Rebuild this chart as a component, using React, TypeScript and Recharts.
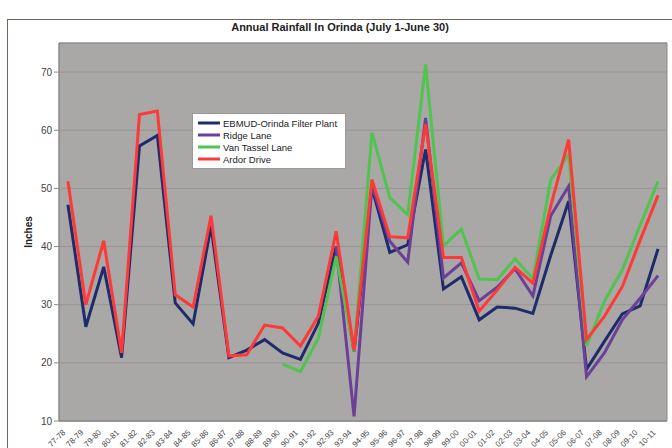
import { LineChart, Line, XAxis, YAxis, CartesianGrid, Legend, ReferenceArea } from "recharts";

const years = [
  "77-78", "78-79", "79-80", "80-81", "81-82", "82-83", "83-84", "84-85", "85-86", "86-87",
  "87-88", "88-89", "89-90", "90-91", "91-92", "92-93", "93-94", "94-95", "95-96", "96-97",
  "97-98", "98-99", "99-00", "00-01", "01-02", "02-03", "03-04", "04-05", "05-06", "06-07",
  "07-08", "08-09", "09-10", "10-11",
];

const ebmud = [
  47.2, 26.2, 36.5, 20.9, 57.3, 59.1, 30.3, 26.7, 43.5, 20.9,
  22.2, 24.0, 21.7, 20.6, 26.8, 40.0, 22.0, 50.1, 39.0, 40.3,
  56.7, 32.7, 34.8, 27.4, 29.6, 29.4, 28.5, 38.5, 47.8, 18.9,
  23.7, 28.4, 29.8, 39.6,
];

const ridge = [
  null, null, null, null, null, null, null, null, null, null,
  null, null, null, null, null, 40.0, 10.8, 50.5, 40.9, 37.3,
  62.1, 34.6, 37.2, 30.7, 33.0, 36.2, 31.5, 45.3, 50.4, 17.6,
  21.7, 27.4, 31.1, 35.0,
];

const vanTassel = [
  null, null, null, null, null, null, null, null, null, null,
  null, null, 19.8, 18.5, 24.2, 38.3, 22.0, 59.6, 48.4, 45.5,
  71.3, 40.1, 43.0, 34.4, 34.3, 37.9, 34.5, 51.5, 55.8, 22.9,
  30.6, 36.0, 43.7, 51.2,
];

const ardor = [
  51.2, 30.0, 41.0, 21.7, 62.7, 63.3, 31.7, 29.6, 45.3, 21.2,
  21.4, 26.5, 26.0, 22.9, 28.0, 42.6, 22.2, 51.5, 41.7, 41.5,
  61.0, 38.1, 38.1, 28.9, 32.5, 36.4, 33.7, 47.0, 58.4, 24.0,
  28.0, 33.1, 41.1, 48.8,
];

const yTicks = [10, 20, 30, 40, 50, 60, 70];

const series = [
  { key: "ebmud", name: "EBMUD-Orinda Filter Plant", color: "#1f2c6c" },
  { key: "ridge", name: "Ridge Lane", color: "#6c3f98" },
  { key: "vanTassel", name: "Van Tassel Lane", color: "#4fc44f" },
  { key: "ardor", name: "Ardor Drive", color: "#ff3838" },
];

const data = years.map((year, i) => ({
  year,
  ebmud: ebmud[i],
  ridge: ridge[i],
  vanTassel: vanTassel[i],
  ardor: ardor[i],
}));

const font = "'Liberation Sans', Arial, sans-serif";

const XTick = ({ x, y, payload }: any) => (
  <text
    x={x - 2}
    y={y + 4}
    textAnchor="end"
    fontSize={8}
    fontFamily={font}
    fill="#4a4a4a"
    transform={`rotate(-45 ${x - 2} ${y + 4})`}
  >
    {payload.value}
  </text>
);

const renderLegend = () => (
  <div
    style={{
      background: "#fff",
      border: "1px solid #9a9a9a",
      padding: "3px 4px",
      fontFamily: font,
      fontSize: 9.5,
      color: "#222",
      whiteSpace: "nowrap",
    }}
  >
    {series.map((s) => (
      <div key={s.key} style={{ display: "flex", alignItems: "center", height: 12 }}>
        <svg width={24} height={6} style={{ marginRight: 2 }}>
          <line x1={1} y1={3} x2={23} y2={3} stroke={s.color} strokeWidth={3} />
        </svg>
        <span>{s.name}</span>
      </div>
    ))}
  </div>
);

export default function App() {
  return (
    <div style={{ position: "absolute", left: 0, top: 0, width: 672, height: 448, background: "#fff", overflow: "hidden" }}>
      <div
        style={{
          position: "absolute",
          left: 7,
          top: 19,
          width: 700,
          height: 480,
          border: "1.5px solid #74665e",
        }}
      />
      <div
        style={{
          position: "absolute",
          left: 0,
          top: 21,
          width: 680,
          textAlign: "center",
          fontFamily: font,
          fontWeight: "bold",
          fontSize: 11,
          color: "#222",
        }}
      >
        Annual Rainfall In Orinda (July 1-June 30)
      </div>
      <LineChart
        width={672}
        height={448}
        data={data}
        margin={{ top: 43, right: 5, bottom: 0, left: 0 }}
        style={{ position: "absolute", left: 0, top: 0 }}
      >
        <CartesianGrid vertical={false} fill="#aaa8a6" stroke="#979593" strokeWidth={1} />
        <ReferenceArea y1={10} y2={75} fill="none" stroke="#8c8a88" strokeWidth={1} />
        <XAxis
          dataKey="year"
          scale="band"
          interval={0}
          height={27}
          tickLine={false}
          axisLine={{ stroke: "#8c8a88" }}
          tick={<XTick />}
        />
        <YAxis
          domain={[10, 75]}
          ticks={yTicks}
          width={59}
          allowDataOverflow
          tickSize={5}
          tickLine={{ stroke: "#8c8a88" }}
          axisLine={{ stroke: "#8c8a88" }}
          tick={{ fontSize: 10, fill: "#444", fontFamily: font }}
          label={({ viewBox }: any) => (
            <text
              x={viewBox.x + 32}
              y={viewBox.y + viewBox.height / 2}
              textAnchor="middle"
              fontSize={10}
              fontWeight="bold"
              fontFamily={font}
              fill="#222"
              transform={`rotate(-90 ${viewBox.x + 32} ${viewBox.y + viewBox.height / 2})`}
            >
              Inches
            </text>
          )}
        />
        <Legend
          layout="vertical"
          align="center"
          verticalAlign="middle"
          content={renderLegend}
          wrapperStyle={{ left: 192, top: 113, width: 154 }}
        />
        {series.map((s) => (
          <Line
            key={s.key}
            type="linear"
            dataKey={s.key}
            name={s.name}
            stroke={s.color}
            strokeWidth={3}
            dot={false}
            activeDot={false}
            isAnimationActive={false}
          />
        ))}
      </LineChart>
    </div>
  );
}
